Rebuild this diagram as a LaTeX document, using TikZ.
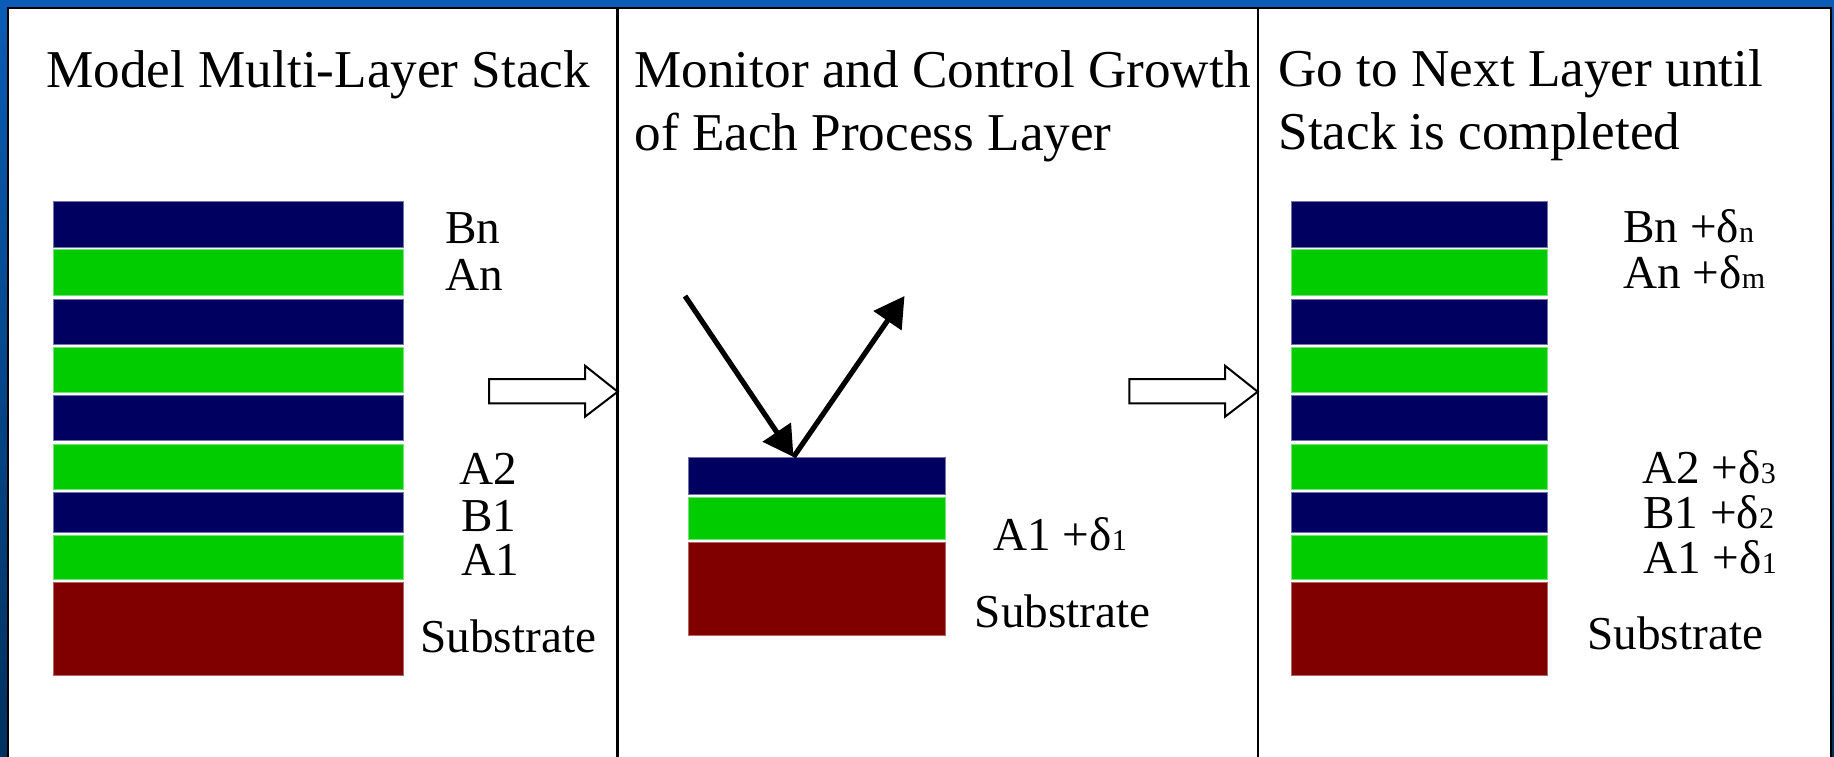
\documentclass[tikz,border=0pt]{standalone}
\usepackage{fontspec}
\setmainfont{Liberation Serif}
\usetikzlibrary{arrows.meta}
\definecolor{slideblue}{HTML}{0A5CB6}
\definecolor{slidedark}{HTML}{00315F}
\definecolor{layerB}{HTML}{000060}
\definecolor{layerA}{HTML}{00CC00}
\definecolor{substr}{HTML}{800000}
% small index after a delta, sitting on the baseline
\newcommand\dsub[1]{{\fontsize{15}{15}\selectfont #1}}
\tikzset{
  title/.style={anchor=base west, inner sep=0pt, font=\fontsize{26.6}{32}\selectfont},
  lbl/.style={anchor=base west, inner sep=0pt, font=\fontsize{23.6}{28}\selectfont},
  Blayer/.style={fill=layerB, draw=layerB!55!white, line width=0.3pt},
  Alayer/.style={fill=layerA, draw=layerA!55!white, line width=0.3pt},
  sublayer/.style={fill=substr, draw=substr!60!white, line width=0.3pt},
  divider/.style={line width=1.25pt, black},
  fatarrow/.style={draw=black, fill=white, line width=1pt, line join=miter},
  ray/.style={line width=2.6pt, -{Triangle[length=15pt,width=16.5pt]}},
}
\begin{document}
\begin{tikzpicture}[x=0.5pt,y=-0.5pt]
\useasboundingbox (0,0) rectangle (1834,756);
% slide background and white panel
\shade[top color=slideblue, bottom color=slidedark] (0,0) rectangle (1834,756);
\fill[white] (8,8) rectangle (1831,760);
\draw[line width=1pt] (8,760) -- (8,8) -- (1831,8) -- (1831,760);
% column dividers
\draw[divider] (617.5,8) -- (617.5,760);
\draw[divider] (1258,8) -- (1258,760);

% ---- column 1: model stack ----
\node[title] (t1) at (46,87) {Model Multi-Layer Stack};
\foreach \xa/\xb in {53.6/403, 1291/1547} {
  \path[Blayer]   (\xa,201.5) rectangle (\xb,247);
  \path[Alayer]   (\xa,249.5) rectangle (\xb,295);
  \path[Blayer]   (\xa,299)   rectangle (\xb,344);
  \path[Alayer]   (\xa,347)   rectangle (\xb,392);
  \path[Blayer]   (\xa,395)   rectangle (\xb,440);
  \path[Alayer]   (\xa,444)   rectangle (\xb,489);
  \path[Blayer]   (\xa,492)   rectangle (\xb,532);
  \path[Alayer]   (\xa,535)   rectangle (\xb,579);
  \path[sublayer] (\xa,582)   rectangle (\xb,675);
}
\node[lbl] (l1bn) at (445,243) {Bn};
\node[lbl] (l1an) at (445,290) {An};
\node[lbl] (l1a2) at (459,484) {A2};
\node[lbl] (l1b1) at (461,531) {B1};
\node[lbl] (l1a1) at (461,575) {A1};
\node[lbl] (l1sub) at (420,652) {Substrate};

% step arrow 1
\draw[fatarrow] (489,379) -- (585,379) -- (585,365.7) -- (617.7,391.7)
  -- (585,416.7) -- (585,403.3) -- (489,403.3) -- cycle;

% ---- column 2: in-situ monitoring ----
\node[title] (t2a) at (634,87) {Monitor and Control Growth};
\node[title] (t2b) at (634,150.5) {of Each Process Layer};
\path[Blayer]   (688.3,457)   rectangle (945,494.3);
\path[Alayer]   (688.3,497)   rectangle (945,539.7);
\path[sublayer] (688.3,542.3) rectangle (945,635.7);
\node[lbl] (l2a1) at (993,550) {A1 +δ\dsub{1}};
\node[lbl] (l2sub) at (974.5,627) {Substrate};
\coordinate (src) at (685,296);
\coordinate (hit) at (793.5,457);
\coordinate (det) at (904.5,296);
\draw[ray] (src) -- (hit);
\draw[ray] (hit) -- (det);

% step arrow 2
\draw[fatarrow] (1129.3,379) -- (1225,379) -- (1225,365.7) -- (1257.7,391.7)
  -- (1225,416.7) -- (1225,403.3) -- (1129.3,403.3) -- cycle;

% ---- column 3: finished stack ----
\node[title] (t3a) at (1278,86) {Go to Next Layer until};
\node[title] (t3b) at (1278,149.5) {Stack is completed};
\node[lbl] (l3bn) at (1623,242) {Bn +δ\dsub{n}};
\node[lbl] (l3an) at (1623,288) {An +δ\dsub{m}};
\node[lbl] (l3a2) at (1642,483) {A2 +δ\dsub{3}};
\node[lbl] (l3b1) at (1643,528) {B1 +δ\dsub{2}};
\node[lbl] (l3a1) at (1643,573) {A1 +δ\dsub{1}};
\node[lbl] (l3sub) at (1587,649) {Substrate};
\end{tikzpicture}
\end{document}
